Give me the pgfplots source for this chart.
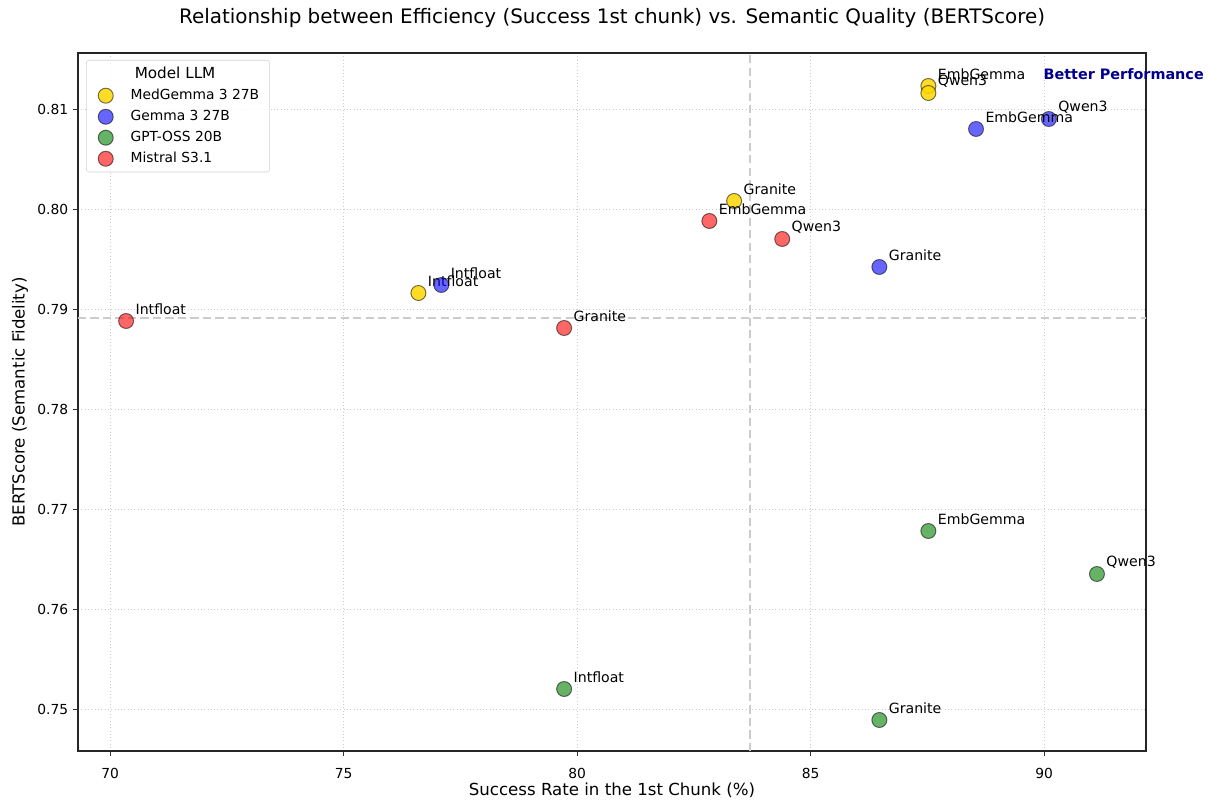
\documentclass[border=0pt]{standalone}
\usepackage{pgfplots}
\pgfplotsset{compat=1.18}
\usepackage{pgfplotstable}
\usepackage{fontspec}
\setmainfont{DejaVu Sans}
\definecolor{cgold}{HTML}{FFD700}
\definecolor{cblue}{HTML}{0000FF}
\definecolor{cgreen}{HTML}{008000}
\definecolor{cred}{HTML}{FF0000}
\definecolor{cnavy}{HTML}{00008B}

\pgfplotstableread{
x y label
87.52 0.8123 EmbGemma
87.52 0.8116 Qwen3
83.36 0.8008 Granite
76.60 0.7916 Intfloat
}\medgemma
\pgfplotstableread{
x y label
90.10 0.8090 Qwen3
88.54 0.8080 EmbGemma
86.47 0.7942 Granite
77.09 0.7924 Intfloat
}\gemma
\pgfplotstableread{
x y label
87.52 0.7678 EmbGemma
91.13 0.7635 Qwen3
79.72 0.7520 Intfloat
86.47 0.7489 Granite
}\gptoss
\pgfplotstableread{
x y label
82.83 0.7988 EmbGemma
84.39 0.7970 Qwen3
70.34 0.7888 Intfloat
79.72 0.7881 Granite
}\mistral

\begin{document}
\begin{tikzpicture}
\useasboundingbox (-56.16bp,-35.28bp) rectangle (813.6bp,540.72bp);
\begin{axis}[
  at={(0,0)}, anchor=south west,
  scale only axis, width=768.96bp, height=502.56bp,
  xmin=69.31, xmax=92.18, ymin=0.7458, ymax=0.8156,
  xtick={70,75,80,85,90},
  ytick={0.75,0.76,0.77,0.78,0.79,0.80,0.81},
  /pgf/number format/assume math mode=true,
  y tick label style={/pgf/number format/.cd, fixed, fixed zerofill, precision=2},
  x tick label style={yshift=-5.5bp},
  ticklabel style={font=\fontsize{10}{12}\selectfont},
  grid=major,
  grid style={dotted, gray!40, line width=0.6bp},
  tick align=outside, tick pos=left, major tick length=3.5bp,
  tick style={black!80, line width=0.6bp},
  axis line style={line width=0.8bp, black!85},
  clip=false,
  title={Relationship between Efficiency (Success 1st chunk) vs. Semantic Quality (BERTScore)},
  title style={at={(0.5,1)}, anchor=center, yshift=19.2bp, font=\fontsize{14.4}{17}\selectfont},
  xlabel={Success Rate in the 1st Chunk (\%)},
  ylabel={BERTScore (Semantic Fidelity)},
  xlabel style={at={(axis description cs:0.5,0)}, anchor=center, yshift=-28.1bp, font=\fontsize{12}{14}\selectfont},
  ylabel style={at={(axis description cs:-0.0543,0.5)}, anchor=center, font=\fontsize{12}{14}\selectfont},
  legend style={at={(0.0075,0.99)}, anchor=north west, draw=gray!35, rounded corners=2pt,
    fill=white, fill opacity=0.8, text opacity=1, font=\fontsize{10}{12}\selectfont,
    row sep=2.2bp, column sep=10.5bp, inner xsep=5.5bp, inner ysep=3bp},
  legend cell align=left,
  nodes near coords,
  point meta=explicit symbolic,
  every node near coord/.append style={anchor=west, inner sep=0pt, xshift=6.5bp, yshift=8.6bp,
    font=\fontsize{10.2}{12}\selectfont, text=black, text opacity=1, fill opacity=1, draw opacity=1},
]
\addlegendimage{empty legend}
\addlegendentry{\hspace*{3bp}\fontsize{11}{13}\selectfont Model LLM}

\addplot[only marks, mark=*, mark size=5.4bp,
  mark options={fill=cgold, fill opacity=0.85, draw=black, draw opacity=0.55, line width=0.7bp}]
  table[x=x, y=y, meta=label] {\medgemma};
\addlegendentry{MedGemma 3 27B}
\addplot[only marks, mark=*, mark size=5.4bp,
  mark options={fill=cblue, fill opacity=0.6, draw=black, draw opacity=0.55, line width=0.7bp}]
  table[x=x, y=y, meta=label] {\gemma};
\addlegendentry{Gemma 3 27B}
\addplot[only marks, mark=*, mark size=5.4bp,
  mark options={fill=cgreen, fill opacity=0.6, draw=black, draw opacity=0.55, line width=0.7bp}]
  table[x=x, y=y, meta=label] {\gptoss};
\addlegendentry{GPT-OSS 20B}
\addplot[only marks, mark=*, mark size=5.4bp,
  mark options={fill=cred, fill opacity=0.6, draw=black, draw opacity=0.55, line width=0.7bp}]
  table[x=x, y=y, meta=label] {\mistral};
\addlegendentry{Mistral S3.1}

\addplot[forget plot, nodes near coords={}, gray!40, line width=1.1bp, dash pattern=on 6bp off 3bp]
  coordinates {(83.70,0.7458) (83.70,0.8156)};
\addplot[forget plot, nodes near coords={}, gray!40, line width=1.1bp, dash pattern=on 6bp off 3bp]
  coordinates {(69.31,0.7891) (92.18,0.7891)};

\node[anchor=west, inner sep=0pt, text=cnavy, font=\fontsize{10.4}{12}\selectfont\bfseries]
  at (axis cs:89.98,0.8135) {Better Performance};
\end{axis}
\end{tikzpicture}
\end{document}
